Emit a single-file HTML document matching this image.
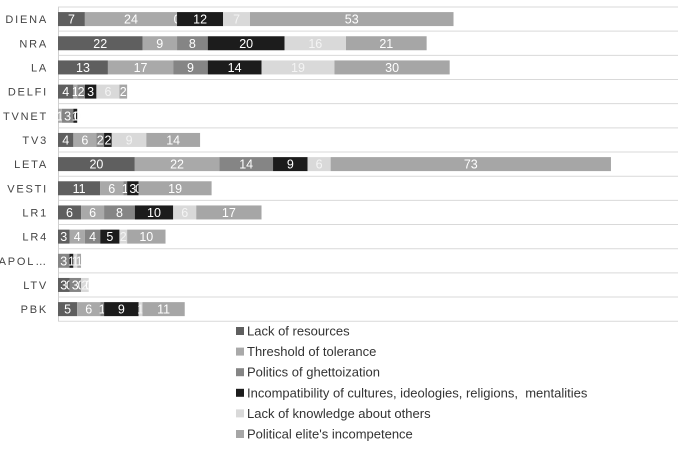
<!DOCTYPE html>
<html><head><meta charset="utf-8"><style>
body{margin:0;background:#fff;width:684px;height:450px;overflow:hidden;font-family:"Liberation Sans",sans-serif}
</style></head><body>
<svg id="s" width="684" height="450" xmlns="http://www.w3.org/2000/svg" font-family="Liberation Sans, sans-serif"></svg>
<script>
(function(){
var s=document.getElementById('s');
var cols=['#5f5f5f','#a9a9a9','#858585','#1c1c1c','#d9d9d9','#a6a6a6'];
var data=[['DIENA',[7,24,0,12,7,53]],['NRA',[22,9,8,20,16,21]],['LA',[13,17,9,14,19,30]],['DELFI',[4,1,2,3,6,2]],['TVNET',[0,1,3,1,0,0]],['TV3',[4,6,2,2,9,14]],['LETA',[20,22,14,9,6,73]],['VESTI',[11,6,1,3,0,19]],['LR1',[6,6,8,10,6,17]],['LR4',[3,4,4,5,2,10]],['APOL…',[0,0,3,1,1,1]],['LTV',[3,0,3,0,2,0]],['PBK',[5,6,1,9,1,11]]];
var h='',x0=58,k=3.84,step=24.17,T=7;
for(var i=0;i<=13;i++){var y=T+i*step;h+='<line x1="58" x2="678" y1="'+y+'" y2="'+y+'" stroke="#d9d9d9" stroke-width="1"/>';}
h+='<line x1="58.5" x2="58.5" y1="7" y2="321" stroke="#d0d0d0"/>';
data.forEach(function(r,i){var cy=T+step*(i+0.5);var x=x0;
h+='<text x="48" y="'+(cy+4)+'" text-anchor="end" font-size="11" letter-spacing="1.8" fill="#444">'+r[0]+'</text>';
r[1].forEach(function(v,j){var w=v*k;if(w>0){h+='<rect x="'+x+'" y="'+(cy-7)+'" width="'+w+'" height="14" fill="'+cols[j]+'"/>';}
h+='<text x="'+(x+w/2)+'" y="'+(cy+4.5)+'" text-anchor="middle" font-size="12.5" fill="'+(j==4?'#f4f4f4':'#fff')+'">'+v+'</text>';x+=w;});});
var L=['Lack of resources','Threshold of tolerance','Politics of ghettoization','Incompatibility of cultures, ideologies, religions,  mentalities','Lack of knowledge about others',"Political elite's incompetence"];
L.forEach(function(t,i){var cy=331+i*20.6;h+='<rect x="236" y="'+(cy-4)+'" width="8" height="8" fill="'+cols[i]+'"/><text x="247" y="'+(cy+4.5)+'" font-size="13" fill="#333" xml:space="preserve">'+t+'</text>';});
s.innerHTML=h;
})();
</script>
</body></html>
